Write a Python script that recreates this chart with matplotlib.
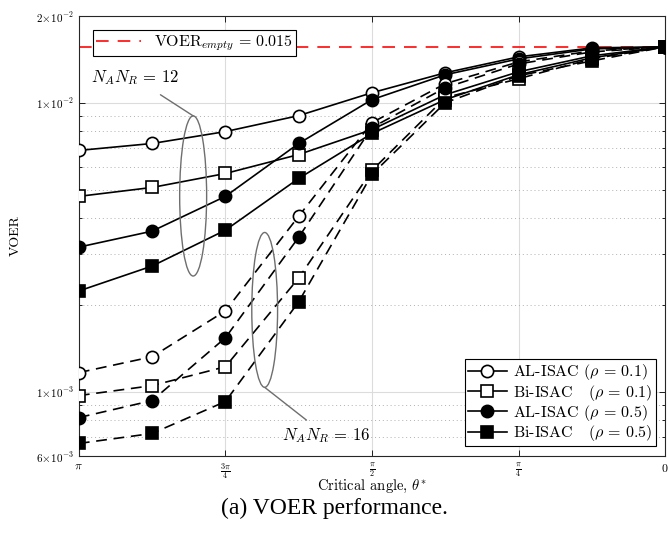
import numpy as np
import matplotlib
matplotlib.use('Agg')
import matplotlib.pyplot as plt
from matplotlib.patches import Ellipse
from matplotlib.lines import Line2D

plt.rcParams['font.family'] = 'serif'
plt.rcParams['font.serif'] = ['cmr10', 'DejaVu Serif']
plt.rcParams['mathtext.fontset'] = 'cm'
plt.rcParams['axes.unicode_minus'] = False
plt.rcParams['axes.formatter.use_mathtext'] = True

# critical angle from pi down to 0 in steps of pi/8
theta = np.pi * np.array([8, 7, 6, 5, 4, 3, 2, 1, 0]) / 8

# N_A N_R = 12 (solid)
al_01_12 = [0.00685, 0.00724, 0.00796, 0.00904, 0.01085, 0.01272, 0.01444, 0.01551, 0.01564]
bi_01_12 = [0.00475, 0.00510, 0.00570, 0.00663, 0.00809, 0.01068, 0.01282, 0.01456, 0.01564]
al_05_12 = [0.00317, 0.00360, 0.00475, 0.00724, 0.01027, 0.01252, 0.01421, 0.01538, 0.01564]
bi_05_12 = [0.002235, 0.002726, 0.003628, 0.00548, 0.00784, 0.01027, 0.01252, 0.01433, 0.01564]

# N_A N_R = 16 (dashed)
al_01_16 = [0.001166, 0.001323, 0.001907, 0.004055, 0.00855, 0.01166, 0.01387, 0.01514, 0.01564]
bi_01_16 = [0.000971, 0.001051, 0.001222, 0.002477, 0.00584, 0.01043, 0.01213, 0.01421, 0.01564]
al_05_16 = [0.000815, 0.000933, 0.001539, 0.00343, 0.00822, 0.01129, 0.01365, 0.01502, 0.01564]
bi_05_16 = [0.000663, 0.000718, 0.000926, 0.00205, 0.00566, 0.01002, 0.01242, 0.01398, 0.01564]

voer_empty = 0.01564

labels = [r'AL-ISAC $(\rho\,=\,0.1)$', r'Bi-ISAC   $(\rho\,=\,0.1)$',
          r'AL-ISAC $(\rho\,=\,0.5)$', r'Bi-ISAC   $(\rho\,=\,0.5)$']

xticks = [np.pi, 3*np.pi/4, np.pi/2, np.pi/4, 0]
xticklabels = [r'$\pi$', r'$\frac{3\pi}{4}$', r'$\frac{\pi}{2}$', r'$\frac{\pi}{4}$', r'$0$']
yticks = [6e-4, 1e-3, 1e-2, 2e-2]
yticklabels = [r'$6\!\times\!10^{-3}$', r'$1\!\times\!10^{-3}$', r'$1\!\times\!10^{-2}$', r'$2\!\times\!10^{-2}$']
yminor = [7e-4, 8e-4, 9e-4] + [k*1e-3 for k in range(2, 10)]

fig = plt.figure(figsize=(6.68, 5.33), dpi=100)
ax = fig.add_axes([0.118, 0.1445, 0.8777, 0.8255])

styles = [('o', 'white'), ('s', 'white'), ('o', 'black'), ('s', 'black')]
solid = [al_01_12, bi_01_12, al_05_12, bi_05_12]
dashed = [al_01_16, bi_01_16, al_05_16, bi_05_16]

for y, (m, fc), lab in zip(solid, styles, labels):
    ax.plot(theta, y, '-', color='black', lw=1.2, marker=m, mfc=fc, mec='black',
            mew=1.2, ms=8.8 if m == 'o' else 8.2, label=lab, zorder=3)
for y, (m, fc) in zip(dashed, styles):
    ax.plot(theta, y, color='black', lw=1.2, dashes=(6.5, 4), marker=m, mfc=fc, mec='black',
            mew=1.2, ms=8.8 if m == 'o' else 8.2, zorder=3)

ax.plot([np.pi, 0], [voer_empty, voer_empty], color='#ff1a1a', lw=1.3, dashes=(7, 5), zorder=2)

ax.set_yscale('log')
ax.set_xlim(np.pi, 0)
ax.set_ylim(6e-4, 2e-2)
ax.set_xticks(xticks)
ax.set_xticklabels(xticklabels, fontsize=8.5)
ax.set_yticks(yticks)
ax.set_yticklabels(yticklabels, fontsize=8)
ax.set_yticks(yminor, minor=True)
ax.set_yticklabels([], minor=True)
ax.tick_params(which='both', direction='in', top=True, right=True, length=4, width=0.6)
ax.tick_params(which='minor', length=2.5)
ax.tick_params(axis='x', pad=4)

ax.grid(True, which='major', color='#dcdcdc', lw=0.8)
ax.grid(True, which='minor', axis='y', color='#b0b0b0', lw=0.7, ls=(0, (1, 3)))
ax.set_axisbelow(True)
for s in ax.spines.values():
    s.set_linewidth(0.8)
    s.set_color('#262626')

ax.set_ylabel('VOER', fontsize=10, labelpad=10)
ax.set_xlabel(r'Critical angle, $\theta^{*}$', fontsize=10.5)
ax.xaxis.set_label_coords(0.5, -0.05)

leg1 = ax.legend(loc='lower right', fontsize=11.5, frameon=True, fancybox=False,
                 edgecolor='black', framealpha=1, handlelength=2.4, handletextpad=0.4,
                 borderpad=0.2, labelspacing=0.02, borderaxespad=0.6)
leg1.get_frame().set_linewidth(0.8)
ax.add_artist(leg1)
leg2 = ax.legend([Line2D([], [], color='#ff1a1a', lw=1.3, dashes=(7, 5))],
                 [r'$\mathrm{VOER}_{empty}\,=\,0.015$'], loc='upper left', fontsize=11.5,
                 fancybox=False, edgecolor='black', framealpha=1, handlelength=2.8,
                 borderpad=0.2, borderaxespad=0.9)
leg2.get_frame().set_linewidth(0.8)

# grouping ellipses
ax.add_patch(Ellipse((0.195, 0.591), 0.046, 0.364, transform=ax.transAxes,
                     fill=False, ec='#6e6e6e', lw=1.0, zorder=4))
ax.add_patch(Ellipse((0.317, 0.332), 0.044, 0.352, transform=ax.transAxes,
                     fill=False, ec='#6e6e6e', lw=1.0, zorder=4))
ax.annotate(r'$N_A N_R\,=\,12$', xy=(0.195, 0.773), xycoords='axes fraction',
            xytext=(0.02, 0.859), textcoords='axes fraction', fontsize=12,
            va='center', ha='left',
            arrowprops=dict(arrowstyle='-', color='#6e6e6e', lw=1.0, shrinkA=6, shrinkB=0))
ax.annotate(r'$N_A N_R\,=\,16$', xy=(0.317, 0.156), xycoords='axes fraction',
            xytext=(0.347, 0.046), textcoords='axes fraction', fontsize=12,
            va='center', ha='left',
            arrowprops=dict(arrowstyle='-', color='#6e6e6e', lw=1.0, shrinkA=4, shrinkB=0))

fig.text(0.5, 0.046, '(a) VOER performance.', ha='center', va='center',
         fontsize=17, family='Liberation Serif')

fig.savefig('out.png', dpi=100)
